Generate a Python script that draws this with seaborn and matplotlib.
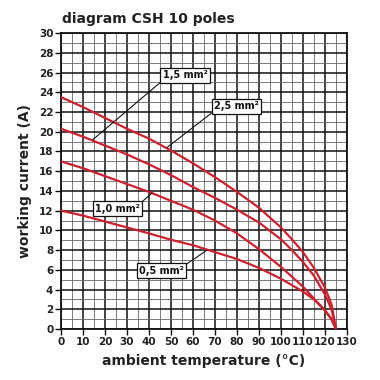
import matplotlib
matplotlib.use("Agg")
import matplotlib.pyplot as plt
import matplotlib.ticker as ticker
import pandas as pd
import seaborn as sns

# Curve values (temperature in degC -> current in A)
temp_25 = [0, 10, 20, 30, 40, 50, 60, 70, 80, 90, 100, 105, 110, 115, 120, 123, 125]
amps_25 = [23.5, 22.5, 21.4, 20.3, 19.3, 18.1, 16.8, 15.4, 13.9, 12.3, 10.3, 9.1, 7.8, 6.2, 4.2, 2.5, 0]

temp_15 = [0, 10, 20, 30, 40, 50, 60, 70, 80, 90, 100, 105, 110, 115, 120, 123, 125]
amps_15 = [20.3, 19.5, 18.6, 17.7, 16.7, 15.6, 14.4, 13.3, 12.1, 10.8, 9.1, 8.0, 6.8, 5.4, 3.5, 2.0, 0]

temp_10 = [0, 10, 20, 30, 40, 50, 60, 70, 80, 90, 100, 110, 115, 120, 123, 125]
amps_10 = [17.0, 16.3, 15.5, 14.7, 13.9, 13.0, 12.1, 11.0, 9.7, 8.1, 6.3, 4.3, 3.1, 1.9, 1.0, 0]

temp_05 = [0, 10, 20, 30, 40, 50, 60, 70, 80, 90, 100, 110, 115, 120, 123, 125]
amps_05 = [12.0, 11.5, 10.9, 10.3, 9.7, 9.05, 8.5, 7.8, 7.1, 6.2, 5.1, 3.8, 3.0, 1.9, 1.0, 0]

sections = ["2,5 mm²", "1,5 mm²", "1,0 mm²", "0,5 mm²"]

frames = []
for name, t, a in zip(sections, [temp_25, temp_15, temp_10, temp_05],
                      [amps_25, amps_15, amps_10, amps_05]):
    frames.append(pd.DataFrame({"temperature": t, "current": a, "section": name}))
df = pd.concat(frames, ignore_index=True)

sns.set_theme(style="white")
plt.rcParams["font.family"] = ["DejaVu Sans"]

fig = plt.figure(figsize=(3.8, 3.8), dpi=100)
ax = fig.add_axes([0.1605, 0.134, 0.7525, 0.779])

red = "#d01f2e"
sns.lineplot(data=df, x="temperature", y="current", hue="section",
             palette=[red] * 4, linewidth=1.6, legend=False, ax=ax,
             sort=False, zorder=3)

ax.set_xlim(0, 130)
ax.set_ylim(0, 30)
ax.xaxis.set_major_locator(ticker.MultipleLocator(10))
ax.xaxis.set_minor_locator(ticker.MultipleLocator(5))
ax.yaxis.set_major_locator(ticker.MultipleLocator(2))
ax.yaxis.set_minor_locator(ticker.MultipleLocator(1))
ax.grid(which="major", color="#111111", linewidth=1.1)
ax.grid(which="minor", color="#666666", linewidth=0.6)
ax.set_axisbelow(True)
for s in ax.spines.values():
    s.set_color("#111111")
    s.set_linewidth(1.3)

ax.tick_params(axis="both", which="major", direction="out", length=4, width=1,
               color="#111111", labelsize=7.5, pad=1.5, left=True, bottom=True)
ax.tick_params(axis="both", which="minor", length=0)
for lab in ax.get_xticklabels() + ax.get_yticklabels():
    lab.set_fontweight("bold")
    lab.set_color("#222222")

ax.set_xlabel("ambient temperature (°C)", fontsize=10, fontweight="bold",
              color="#222222", labelpad=5)
ax.set_ylabel("working current (A)", fontsize=10, fontweight="bold",
              color="#222222", labelpad=5)
fig.text(0.163, 0.94, "diagram CSH 10 poles", fontsize=10, fontweight="bold",
         color="#222222")

box = dict(boxstyle="square,pad=0.25", fc="white", ec="#111111", lw=0.9)
labels = [
    ("1,5 mm²", (14.5, 19.2), (56.4, 25.7), (0, 0)),
    ("2,5 mm²", (48.2, 18.4), (79.8, 22.6), (0, 0)),
    ("1,0 mm²", (41.4, 13.8), (25.7, 12.2), (1, 1)),
    ("0,5 mm²", (66.4, 8.0), (45.7, 5.9), (1, 1)),
]
for text, xy, xytext, rel in labels:
    ax.annotate(text, xy=xy, xytext=xytext, ha="center", va="center",
                fontsize=7, fontweight="bold", color="#111111", bbox=box,
                arrowprops=dict(arrowstyle="-", color="#111111", lw=0.8,
                                relpos=rel, shrinkA=0, shrinkB=0),
                zorder=5)

fig.savefig("out.png", dpi=100)
